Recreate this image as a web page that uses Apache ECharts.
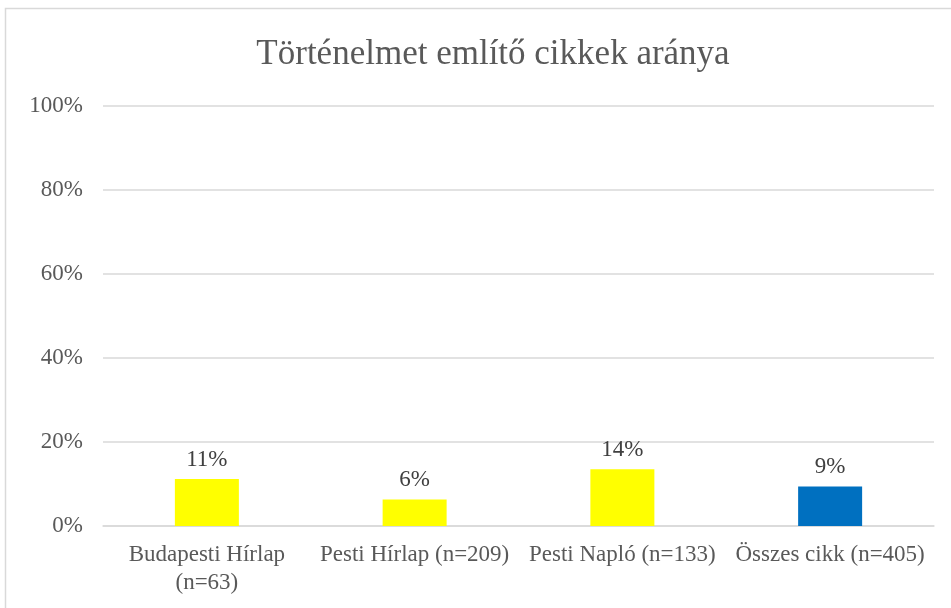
<!DOCTYPE html>
<html><head><meta charset="utf-8">
<script src="https://cdn.jsdelivr.net/npm/echarts@6/dist/echarts.min.js"></script>
<style>html,body{margin:0;padding:0;background:#fff}#c{width:951px;height:608px}</style>
</head><body><div id="c"></div>
<script>
const categories = ['Budapesti Hírlap\n(n=63)', 'Pesti Hírlap (n=209)', 'Pesti Napló (n=133)', 'Összes cikk (n=405)'];
const values = [11.2, 6.3, 13.5, 9.4];
const barColors = ['#FFFF00', '#FFFF00', '#FFFF00', '#0070C0'];
const yTicks = [0, 20, 40, 60, 80, 100];
const titleText = 'Történelmet említő cikkek aránya';

const font = 'Liberation Serif, Times New Roman, serif';
const chart = echarts.init(document.getElementById('c'));
chart.setOption({
  animation: false,
  graphic: [{ type: 'rect', shape: { x: 5.5, y: 8.5, width: 1000, height: 700 }, style: { fill: 'none', stroke: '#d9d9d9', lineWidth: 1.5 }, silent: true }],
  title: { text: titleText, left: 488, textAlign: 'center', top: 32,
    textStyle: { fontFamily: font, fontSize: 35, fontWeight: 'normal', color: '#595959' } },
  grid: { left: 103, right: 17, top: 106, bottom: 82 },
  xAxis: { type: 'category', data: categories,
    axisLine: { lineStyle: { color: '#d9d9d9', width: 1.5 } }, axisTick: { show: false },
    axisLabel: { fontFamily: font, fontSize: 23, color: '#595959', margin: 15, lineHeight: 28, interval: 0 } },
  yAxis: { type: 'value', min: yTicks[0], max: yTicks[yTicks.length - 1], interval: 20,
    axisLine: { show: false }, axisTick: { show: false },
    splitLine: { lineStyle: { color: '#d9d9d9', width: 1.5 } },
    axisLabel: { fontFamily: font, fontSize: 23, color: '#595959', margin: 20, formatter: v => v + '%' } },
  series: [{ type: 'bar', barWidth: 64,
    data: values.map((v, i) => ({ value: v, itemStyle: { color: barColors[i] } })),
    label: { show: true, position: 'top', distance: 8, fontFamily: font, fontSize: 23, color: '#404040',
      formatter: p => Math.round(p.value) + '%' } }]
});
</script></body></html>
